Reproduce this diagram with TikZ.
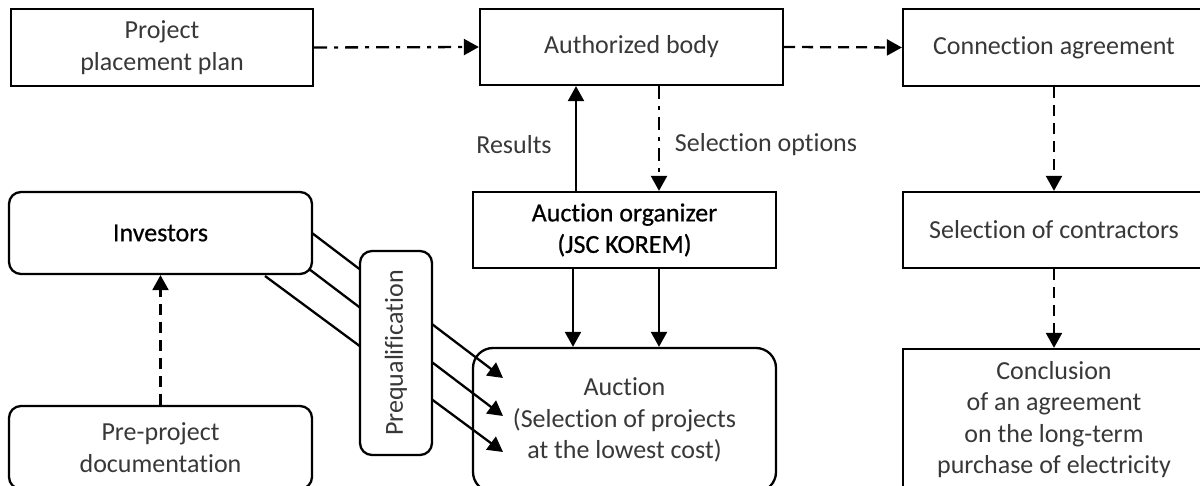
\documentclass[tikz,border=0pt]{standalone}
\usepackage{fontspec}
\setmainfont{Carlito}[Ligatures=NoCommon]
\newfontfamily\strongfont{Carlito}[Ligatures=NoCommon,FakeBold=0.6]
\usetikzlibrary{arrows.meta}
\begin{document}
\begin{tikzpicture}[x=1pt,y=-1pt,
  every node/.style={font=\fontsize{26}{31.5}\selectfont, text=black!78},
  box/.style={draw=black, line width=2.3pt, rectangle, align=center, inner sep=0pt, fill=white},
  rbox/.style={box, rounded corners=12pt},
  strong/.style={text=black, font=\fontsize{26}{31.5}\strongfont},
  conn/.style={line width=2.3pt, -{Triangle[length=15pt,width=16pt]}},
  dashline/.style={conn, dash pattern=on 11pt off 7pt},
  dashdot/.style={conn, dash pattern=on 13pt off 7pt on 4pt off 7pt},
  lbl/.style={inner sep=0pt}
]
\useasboundingbox (0,0) rectangle (1200,486);
\clip (0,0) rectangle (1200,486);

% top row
\node[box, minimum width=302pt, minimum height=77pt] (plan) at (162,47.5) {Project\\placement plan};
\node[box, minimum width=303pt, minimum height=76pt] (auth) at (631.5,47) {Authorized body};
\node[box, minimum width=302pt, minimum height=77pt] (agr) at (1054,47.5) {Connection agreement};

% right column
\node[box, minimum width=302pt, minimum height=76pt] (sel) at (1054,230) {Selection of contractors};
\node[box, minimum width=302pt, minimum height=141pt] (concl) at (1054,419.5) {Conclusion\\of an agreement\\on the long-term\\purchase of electricity};

% middle column
\node[box, minimum width=303pt, minimum height=76pt, strong] (org) at (624.5,230) {Auction organizer\\(JSC KOREM)};
\node[rbox, rounded corners=20pt, minimum width=303pt, minimum height=144pt] (auc) at (624.5,420) {Auction\\(Selection of projects\\at the lowest cost)};

% left column
\node[rbox, minimum width=303pt, minimum height=82pt, strong] (inv) at (160.5,233) {Investors};
\node[rbox, minimum width=303pt, minimum height=83pt] (pre) at (160.5,447.5) {Pre-project\\documentation};

% helper coordinates
\coordinate (xr) at (576,0);
\coordinate (xs) at (659,0);
\coordinate (xd) at (573,0);
\coordinate (s1) at (312,233);
\coordinate (s2) at (309,269);
\coordinate (s3) at (265,276);
\coordinate (t1) at (503,378);
\coordinate (t2) at (503,416);
\coordinate (t3) at (503,452);

% connectors
\draw[dashdot] (plan.east) -- (auth.west);
\draw[dashline] (auth.east) -- (agr.west);
\draw[dashline] (agr.south) -- (sel.north);
\draw[dashline] (sel.south) -- (concl.north);
\draw[conn] (xr |- org.north) -- (xr |- auth.south);
\draw[dashdot] (xs |- auth.south) -- (xs |- org.north);
\draw[conn] (xd |- org.south) -- (xd |- auc.north);
\draw[conn] (xs |- org.south) -- (xs |- auc.north);
\draw[dashline] (pre.north) -- (inv.south);
\draw[conn] (s1) -- (t1);
\draw[conn] (s2) -- (t2);
\draw[conn] (s3) -- (t3);

% prequalification box over the lines
\node[rbox, minimum width=72pt, minimum height=204pt] (preq) at (396,353) {\rotatebox{90}{Prequalification}};

% labels
\node[lbl] (lres) at (514,145) {Results};
\node[lbl] (lsel) at (766,145) {Selection options};
\end{tikzpicture}
\end{document}
